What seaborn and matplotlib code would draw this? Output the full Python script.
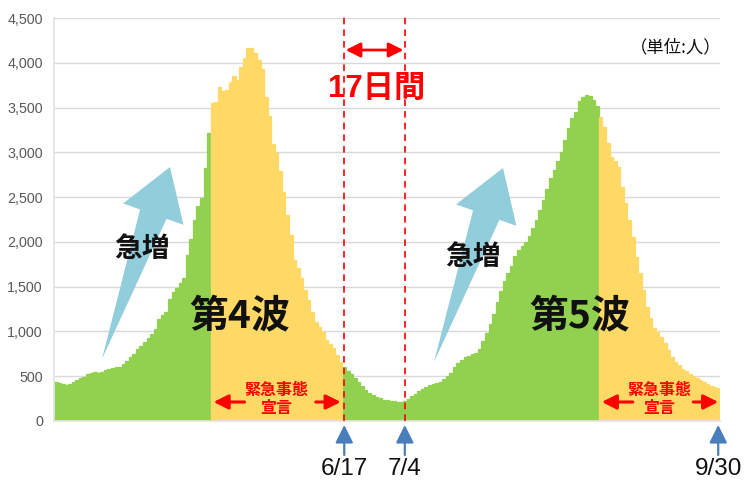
import numpy as np
import pandas as pd
import matplotlib
matplotlib.use("Agg")
import matplotlib.pyplot as plt
import seaborn as sns
from matplotlib.transforms import Affine2D, blended_transform_factory
from matplotlib.patches import Polygon

# ---------------- data ----------------
start_date = "2021-03-28"
end_date = "2021-09-30"
values = [
    430, 425, 415, 400, 415, 440, 460, 480, 495, 520,
    540, 545, 540, 550, 565, 585, 595, 600, 605, 635,
    670, 720, 750, 800, 840, 880, 925, 970, 1030, 1140,
    1180, 1220, 1360, 1440, 1480, 1545, 1600, 1850, 2030, 2240,
    2400, 2490, 2825, 3220, 3555, 3560, 3725, 3680, 3700, 3790,
    3853, 3808, 3956, 4050, 4160, 4160, 4105, 4030, 3927, 3621,
    3405, 3093, 2992, 2795, 2560, 2300, 2077, 1798, 1705, 1593,
    1463, 1351, 1220, 1109, 1050, 997, 904, 860, 812, 737,
    660, 600, 560, 530, 480, 430, 390, 350, 315, 290,
    270, 255, 240, 230, 223, 218, 216, 216, 225, 245,
    275, 300, 330, 355, 380, 400, 415, 428, 440, 465,
    500, 540, 600, 645, 680, 718, 730, 745, 760, 805,
    890, 980, 1080, 1200, 1330, 1450, 1560, 1650, 1730, 1840,
    1910, 1955, 2000, 2065, 2150, 2240, 2356, 2470, 2590, 2710,
    2805, 2900, 3000, 3140, 3270, 3380, 3450, 3570, 3620, 3645,
    3630, 3580, 3520, 3398, 3286, 3100, 2951, 2900, 2840, 2616,
    2430, 2244, 2058, 1835, 1649, 1463, 1276, 1147, 1035, 990,
    941, 868, 793, 718, 660, 620, 585, 560, 530, 505,
    480, 455, 435, 415, 395, 375, 365,
]
emergency_periods = [("2021-05-11", "2021-06-16"), ("2021-08-28", "2021-09-30")]
marker_dates = ["2021-06-17", "2021-07-04", "2021-09-30"]
marker_labels = ["6/17", "7/4", "9/30"]
gap_label = "17日間"
wave_labels = ["第4波", "第5波"]
surge_label = "急増"
emergency_label = "緊急事態\n宣言"
unit_label = "（単位:人）"
y_ticks = [0, 500, 1000, 1500, 2000, 2500, 3000, 3500, 4000, 4500]
y_tick_labels = ["0", "500", "1,000", "1,500", "2,000", "2,500",
                 "3,000", "3,500", "4,000", "4,500"]

# ---------------- frame ----------------
dates = pd.date_range(start_date, end_date, freq="D")
phase = np.array(["normal"] * len(dates), dtype=object)
for s, e in emergency_periods:
    phase[(dates >= s) & (dates <= e)] = "emergency"
df = pd.DataFrame({"day": np.arange(len(dates)), "value": values, "phase": phase})

GREEN = "#92D050"
YELLOW = "#FFD966"
RED = "#FF0000"
BLUE = "#4A7EBB"
LIGHTBLUE = "#92CDDC"

sns.set_theme(style="white")
plt.rcParams["font.family"] = ["Liberation Sans", "Noto Sans CJK JP", "DejaVu Sans"]
JP = ["Noto Sans CJK JP", "DejaVu Sans"]

W, H = 745, 484
fig = plt.figure(figsize=(W / 100, H / 100), dpi=100)
ax = fig.add_axes([54 / W, 1 - 421 / H, (720 - 54) / W, (421 - 18) / H])

sns.barplot(data=df, x="day", y="value", hue="phase",
            palette={"normal": GREEN, "emergency": YELLOW},
            native_scale=True, width=1.0, dodge=False, errorbar=None,
            saturation=1, legend=False, ax=ax)
for p in ax.patches:
    p.set_edgecolor(p.get_facecolor())
    p.set_linewidth(0.9)

N = len(dates)
ax.set_xlim(-0.5, N - 0.5)
ax.set_ylim(0, 4500)
ax.set_yticks(y_ticks)
ax.set_yticklabels(y_tick_labels, color="#595959", fontsize=10.3)
ax.tick_params(axis="y", length=0, pad=8)
ax.set_xticks([])
ax.set_xlabel("")
ax.set_ylabel("")
ax.yaxis.grid(True, color="#D9D9D9", lw=1)
ax.set_axisbelow(True)
for side in ["top", "right"]:
    ax.spines[side].set_visible(False)
ax.spines["left"].set_color("#E3E3E3")
ax.spines["bottom"].set_color("#E3E3E3")

px = Affine2D().scale(1 / W, -1 / H).translate(0, 1) + fig.transFigure
xdata_ypx = blended_transform_factory(ax.transData, px)

def day_of(d):
    return dates.get_loc(pd.Timestamp(d))

# dashed lines + markers
mpos = [day_of(d) for d in marker_dates]
for pos in mpos[:2]:
    ax.axvline(pos, ymin=0, ymax=1.008, color=RED, lw=1.2,
               ls=(0, (4, 3)), clip_on=False, zorder=5)
for pos, lab in zip(mpos, marker_labels):
    ax.annotate("", xy=(pos, 425), xytext=(pos, 455),
                xycoords=xdata_ypx, textcoords=xdata_ypx,
                arrowprops=dict(arrowstyle="-|>", color=BLUE, lw=1.6,
                                mutation_scale=27, shrinkA=0, shrinkB=0),
                annotation_clip=False)
    ax.text(pos, 469, lab, transform=xdata_ypx, ha="center", va="center",
            fontsize=17.5, color="#111111")

# 17 days double arrow
ax.annotate("", xy=(mpos[1], 50), xytext=(mpos[0], 50),
            xycoords=xdata_ypx, textcoords=xdata_ypx,
            arrowprops=dict(arrowstyle="<|-|>", color=RED, lw=2,
                            mutation_scale=22, shrinkA=1, shrinkB=1),
            annotation_clip=False, zorder=6)
ax.text((mpos[0] + mpos[1]) / 2 + 0.5, 89, gap_label, transform=xdata_ypx,
        ha="center", va="center", fontsize=22.5, color=RED,
        fontweight="bold", family=["Liberation Sans", "Noto Sans CJK JP"])

# emergency labels and arrows
for s, e in emergency_periods:
    i0, i1 = day_of(s) - 0.5, day_of(e) + 0.5
    mid = (i0 + i1) / 2
    ax.text(mid, 399, emergency_label, transform=xdata_ypx, ha="center",
            va="center", fontsize=11.5, color=RED, fontweight="bold",
            family=JP, linespacing=1.15, zorder=6)
    for tip, tail in [(i0 + 0.8, i0 + 9.5), (i1 - 0.5, i1 - 7.5)]:
        ax.annotate("", xy=(tip, 402), xytext=(tail, 402),
                    xycoords=xdata_ypx, textcoords=xdata_ypx,
                    arrowprops=dict(arrowstyle="-|>", color=RED, lw=2.2,
                                    mutation_scale=22, shrinkA=0, shrinkB=0),
                    zorder=6)

# light blue surge arrows
def arrow_poly(tail, tip, hl=50, wh=32, ws=14):
    t = np.array(tail, float); p = np.array(tip, float)
    d = (p - t) / np.linalg.norm(p - t)
    n = np.array([-d[1], d[0]])
    b = p - d * hl
    return [t, b + n * ws, b + n * wh, p, b - n * wh, b - n * ws]

for tail, tip in [((102, 359), (170, 167)), ((434, 362), (503, 168))]:
    fig.add_artist(Polygon(arrow_poly(tail, tip), closed=True,
                           facecolor=LIGHTBLUE, edgecolor="none",
                           transform=px, zorder=4))

for (x, y) in [(142, 249), (473, 257)]:
    fig.text(x, y, surge_label, transform=px, ha="center", va="center",
             fontsize=20, fontweight="bold", family=JP, color="#111111", zorder=7)

for (x, y), lab in zip([(240, 316), (580, 316)], wave_labels):
    fig.text(x, y, lab, transform=px, ha="center", va="center",
             fontsize=28, fontweight="bold", family=JP, color="#111111", zorder=7)

fig.text(722, 47, unit_label, transform=px, ha="right", va="center",
         fontsize=12.5, family=JP, color="#111111")

fig.savefig("out.png", dpi=100)
